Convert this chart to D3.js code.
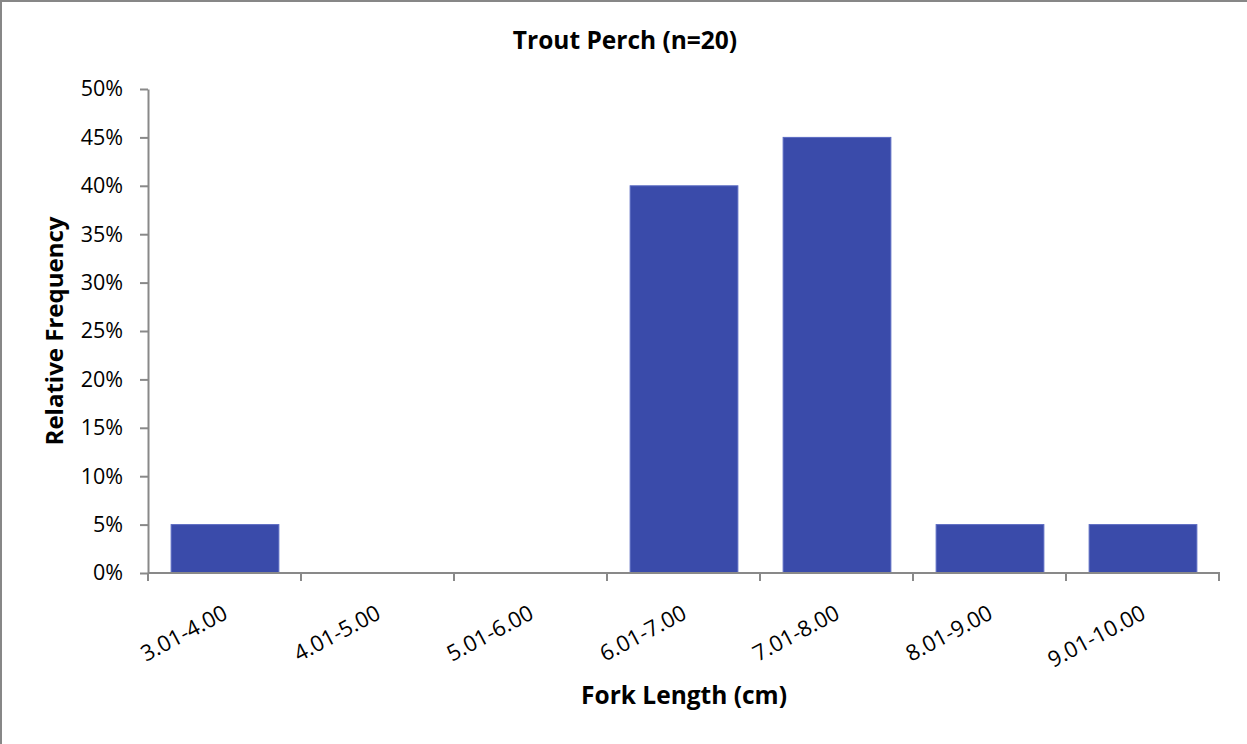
<!DOCTYPE html>
<html><head><meta charset="utf-8">
<script src="https://cdn.jsdelivr.net/npm/d3@7"></script>
<style>
html,body{margin:0;padding:0;background:#fff;}
svg{display:block;}
text{font-family:"Open Sans","Noto Sans",sans-serif;fill:#000;}
</style></head>
<body>
<svg id="chart" width="1247" height="744"></svg>
<script>
const categories = ["3.01-4.00","4.01-5.00","5.01-6.00","6.01-7.00","7.01-8.00","8.01-9.00","9.01-10.00"];
const values = [0.05, 0, 0, 0.40, 0.45, 0.05, 0.05];
const yTicks = [0,0.05,0.10,0.15,0.20,0.25,0.30,0.35,0.40,0.45,0.50];
const title = "Trout Perch (n=20)";
const xTitle = "Fork Length (cm)";
const yTitle = "Relative Frequency";

const svg = d3.select("#chart");
const W = 1247, H = 744;
const m = {left:148, right:1219, top:89, bottom:573};

// chart border
svg.append("rect").attr("x",1).attr("y",1).attr("width",W+4).attr("height",H+4)
  .attr("fill","#fff").attr("stroke","#878787").attr("stroke-width",2);

const x = d3.scaleBand().domain(categories).range([m.left,m.right]).paddingInner(0.2958).paddingOuter(0.1479);
const xb = d3.scaleBand().domain(categories).range([m.left,m.right]);
const y = d3.scaleLinear().domain([0,0.5]).range([m.bottom,m.top]);

// bars
svg.append("g").selectAll("rect").data(values).join("rect")
  .attr("x",(d,i)=>x(categories[i])+0.5)
  .attr("width",x.bandwidth())
  .attr("y",d=>y(d))
  .attr("height",d=>y(0)-y(d))
  .attr("fill","#3a4baa")
  .attr("stroke","#5b6bc2").attr("stroke-width",1)
  .attr("display",d=>d>0?null:"none");

// y axis
const yAxis = d3.axisLeft(y).tickValues(yTicks).tickFormat(d3.format(".0%")).tickSize(8).tickSizeOuter(0).tickPadding(17);
const gy = svg.append("g").attr("transform",`translate(${m.left},0)`).call(yAxis);
gy.select(".domain").attr("stroke","#898989").attr("stroke-width",2);
gy.selectAll(".tick line").attr("stroke","#898989").attr("stroke-width",2);
gy.selectAll(".tick text").attr("font-size",21.5).attr("font-family","Open Sans, Noto Sans, sans-serif").attr("fill","#000");

// x axis
const gx = svg.append("g").attr("transform",`translate(0,${m.bottom})`);
gx.append("line").attr("x1",m.left).attr("x2",m.right+1).attr("y1",0).attr("y2",0)
  .attr("stroke","#898989").attr("stroke-width",2);
const bounds = categories.map(c=>xb(c)).concat([xb(categories[categories.length-1])+xb.bandwidth()]);
gx.selectAll("line.tk").data(bounds).join("line").attr("class","tk")
  .attr("x1",d=>d).attr("x2",d=>d).attr("y1",0).attr("y2",8)
  .attr("stroke","#898989").attr("stroke-width",2);
gx.selectAll("text.lbl").data(categories).join("text").attr("class","lbl")
  .attr("transform",c=>`translate(${xb(c)+xb.bandwidth()/2+1},${38}) rotate(-28)`)
  .attr("text-anchor","end").attr("dy","0.35em")
  .attr("font-size",22).text(c=>c);

// titles
svg.append("text").attr("x",625).attr("y",49).attr("text-anchor","middle")
  .attr("font-size",24.5).attr("font-weight","bold").text(title);
svg.append("text").attr("x",684).attr("y",704).attr("text-anchor","middle")
  .attr("font-size",24.5).attr("font-weight","bold").text(xTitle);
svg.append("text").attr("transform",`translate(63,331) rotate(-90)`).attr("text-anchor","middle")
  .attr("font-size",24).attr("font-weight","bold").text(yTitle);
</script>
</body></html>
